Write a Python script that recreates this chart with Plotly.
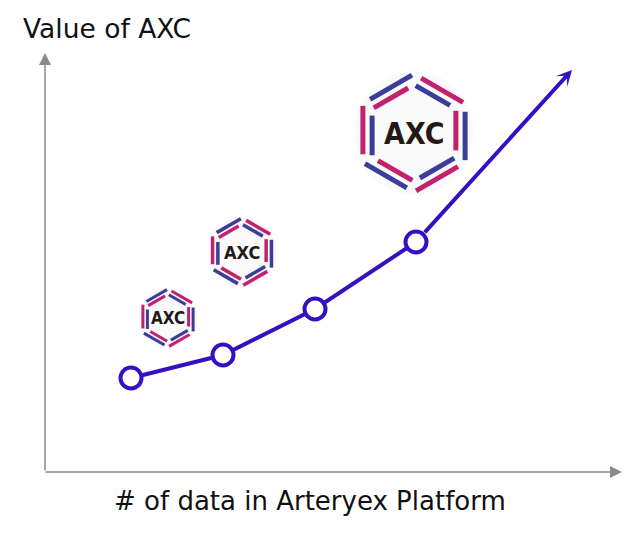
import math
import plotly.graph_objects as go

# ---- data (chart units: 1 unit = 10 px, origin at the axes corner) ----
x_vals = [8.6, 17.8, 27.0, 37.1]
y_vals = [9.4, 11.7, 16.3, 23.0]
arrow_tip = [52.7, 40.2]

x_title = "# of data in Arteryex Platform"
y_title = "Value of AXC"
logo_text = "AXC"

logo_x = [12.3, 19.7, 36.9]
logo_y = [15.4, 22.0, 33.9]
logo_r = [2.9, 3.4, 5.9]
logo_font = [17, 18, 30]
logo_lw = [3, 3.5, 5]

LINE = "#3311C2"
BLUE = "#3B3D9B"
MAG = "#C2216E"
AXIS = "#8A8A8A"

fig = go.Figure()

fig.add_trace(go.Scatter(
    x=x_vals, y=y_vals, mode="lines+markers",
    line=dict(color=LINE, width=4),
    marker=dict(size=21, color="white", line=dict(color=LINE, width=4)),
    hoverinfo="skip", showlegend=False,
))

shapes = []
annotations = []

# hexagon logos
angles = [90, 30, -30, -90, -150, 150]
outer_cols = [MAG, BLUE, MAG, BLUE, MAG, BLUE]  # sides: UR, R, LR, LL, L, UL
for cx, cy, r, fs, lw in zip(logo_x, logo_y, logo_r, logo_font, logo_lw):
    # soft glow
    shapes.append(dict(type="circle", xref="x", yref="y",
                       x0=cx - r * 1.02, x1=cx + r * 1.02, y0=cy - r * 1.05, y1=cy + r * 1.05,
                       fillcolor="rgba(0,0,0,0.018)", line=dict(width=0), layer="below"))
    for i in range(6):
        a0 = math.radians(angles[i])
        a1 = math.radians(angles[(i + 1) % 6])
        for k, (t0, t1), col in [(1.0, (0.14, 0.96), outer_cols[i]),
                                 (0.82, (0.04, 0.86), BLUE if outer_cols[i] == MAG else MAG)]:
            px0, py0 = cx + k * r * math.cos(a0), cy + k * r * math.sin(a0)
            px1, py1 = cx + k * r * math.cos(a1), cy + k * r * math.sin(a1)
            shapes.append(dict(type="line", xref="x", yref="y",
                               x0=px0 + (px1 - px0) * t0, y0=py0 + (py1 - py0) * t0,
                               x1=px0 + (px1 - px0) * t1, y1=py0 + (py1 - py0) * t1,
                               line=dict(color=col, width=lw)))
    annotations.append(dict(x=cx, y=cy, xref="x", yref="y", text="<b>" + logo_text + "</b>",
                            showarrow=False,
                            font=dict(family="Liberation Sans Narrow, DejaVu Sans Condensed, Liberation Sans, sans-serif",
                                      size=fs, color="#231815")))

# axes arrows
annotations.append(dict(x=0, y=41.9, ax=0, ay=0, xref="x", yref="y", axref="x", ayref="y",
                        text="", showarrow=True, arrowhead=2, arrowsize=1.6, arrowwidth=1.5,
                        arrowcolor=AXIS))
annotations.append(dict(x=57.7, y=0, ax=-0.1, ay=0, xref="x", yref="y", axref="x", ayref="y",
                        text="", showarrow=True, arrowhead=2, arrowsize=1.6, arrowwidth=1.5,
                        arrowcolor=AXIS))
# growth arrow
annotations.append(dict(x=arrow_tip[0], y=arrow_tip[1], ax=x_vals[-1], ay=y_vals[-1],
                        xref="x", yref="y", axref="x", ayref="y", text="", showarrow=True,
                        arrowhead=3, arrowsize=0.65, arrowwidth=4, arrowcolor=LINE,
                        startstandoff=11))
# titles
annotations.append(dict(x=-2.4, y=44.4, xref="x", yref="y", text=y_title, showarrow=False,
                        xanchor="left", yanchor="middle",
                        font=dict(family="DejaVu Sans, sans-serif", size=26.5, color="#111111")))
annotations.append(dict(x=26.5, y=-2.9, xref="x", yref="y", text=x_title, showarrow=False,
                        xanchor="center", yanchor="middle",
                        font=dict(family="DejaVu Sans, sans-serif", size=26, color="#111111")))

fig.update_layout(
    width=633, height=535,
    margin=dict(l=0, r=0, t=0, b=0),
    paper_bgcolor="white", plot_bgcolor="white",
    xaxis=dict(range=[-4.5, 58.8], visible=False, fixedrange=True),
    yaxis=dict(range=[-6.3, 47.2], visible=False, fixedrange=True),
    shapes=shapes, annotations=annotations, showlegend=False,
)

fig.write_html("out.html", config={"displayModeBar": False},
               post_script="document.body.style.margin='0';document.body.style.padding='0';")
